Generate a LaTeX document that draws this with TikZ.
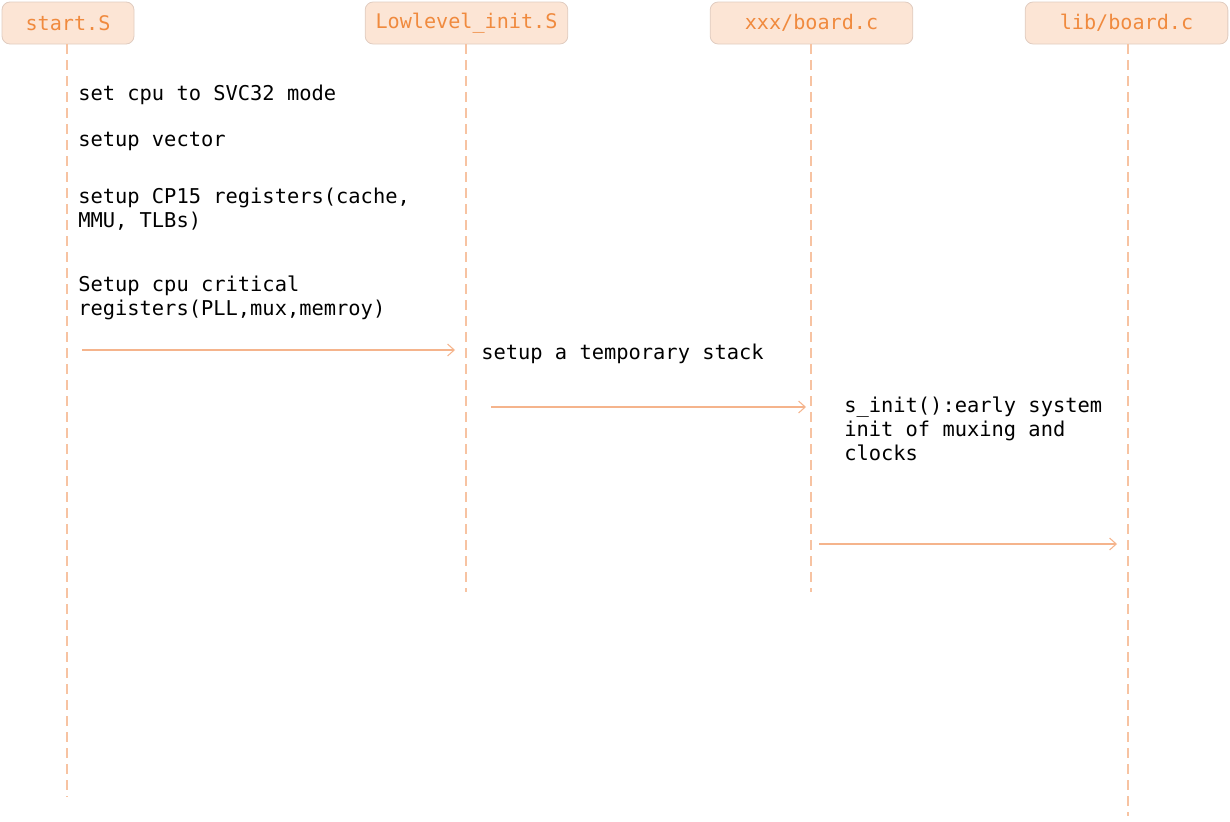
\documentclass[tikz,border=0pt]{standalone}
\usepackage{fontspec}
\setmonofont{DejaVu Sans Mono}
\usetikzlibrary{arrows.meta}
\definecolor{boxfill}{HTML}{FCE5D5}
\definecolor{boxline}{HTML}{E0CCC0}
\definecolor{headtext}{HTML}{F08A3E}
\definecolor{lifecol}{HTML}{F7C3A2}
\definecolor{msgcol}{HTML}{F5B48C}
\tikzset{
  actor/.style={draw=boxline, fill=boxfill, rounded corners=6pt, line width=0.6pt,
    minimum height=31.5pt, font=\ttfamily\fontsize{15.1}{17}\selectfont, text=headtext, inner sep=0pt},
  lifeline/.style={draw=lifecol, line width=1.1pt, dash pattern=on 7.5pt off 4.5pt},
  msg/.style={draw=msgcol, line width=0.8pt, -{Straight Barb[length=5pt,width=9pt]}},
  note/.style={anchor=north west, inner sep=0pt, align=left,
    font=\ttfamily\fontsize{15.3}{18}\selectfont, text=black}
}
\begin{document}
\begin{tikzpicture}[x=0.75pt,y=-0.75pt]
\useasboundingbox (0,0) rectangle (1230,821);
% actors
\node[actor, minimum width=99pt] (a1) at (68,23) {start.S};
\node[actor, minimum width=152pt] (a2) at (466.5,23) {Lowlevel\_init.S};
\node[actor, minimum width=152pt] (a3) at (811.5,23) {xxx/board.c};
\node[actor, minimum width=152pt] (a4) at (1126.5,23) {lib/board.c};
% lifeline ends
\coordinate (e1) at (67,797);
\coordinate (e2) at (466,592);
\coordinate (e3) at (811,592);
\coordinate (e4) at (1128,816);
\draw[lifeline] (a1.south -| e1) -- (e1);
\draw[lifeline] (a2.south -| e2) -- (e2);
\draw[lifeline] (a3.south -| e3) -- (e3);
\draw[lifeline] (a4.south -| e4) -- (e4);
% notes
\node[note] (t1) at (78,85) {set cpu to SVC32 mode};
\node[note] (t2) at (78,132) {setup vector};
\node[note] (t3) at (78,188) {setup CP15 registers(cache,\\MMU, TLBs)};
\node[note] (t4) at (78,276) {Setup cpu critical\\registers(PLL,mux,memroy)};
\node[note] (t5) at (481,344) {setup a temporary stack};
\node[note] (t6) at (844,397) {s\_init():early system\\init of muxing and\\clocks};
% messages
\coordinate (m1s) at (82,350);
\coordinate (m1e) at (455,350);
\coordinate (m2s) at (491,407);
\coordinate (m2e) at (806,407);
\coordinate (m3s) at (819,544);
\coordinate (m3e) at (1117,544);
\draw[msg] (m1s) -- (m1e);
\draw[msg] (m2s) -- (m2e);
\draw[msg] (m3s) -- (m3e);
\end{tikzpicture}
\end{document}
